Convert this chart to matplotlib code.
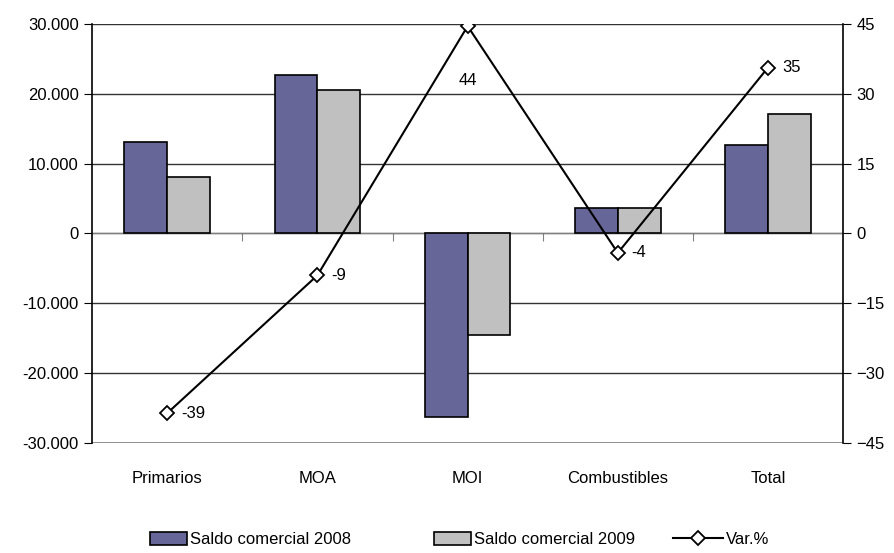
import numpy as np
import matplotlib as mpl
import matplotlib.pyplot as plt
from matplotlib.ticker import FuncFormatter

mpl.rcParams['font.family'] = ['Liberation Sans', 'DejaVu Sans']
fs = 12

# data
categorias = ['Primarios', 'MOA', 'MOI', 'Combustibles', 'Total']
saldo_2008 = [13100, 22700, -26300, 3700, 12600]
saldo_2009 = [8000, 20500, -14600, 3700, 17100]
var_pct = [-38.6, -9.0, 44.5, -4.2, 35.6]
var_labels = ['-39', '-9', '44', '-4', '35']

x = np.arange(len(categorias))
w = 0.285

fig = plt.figure(figsize=(8.95, 5.53), dpi=100)
ax = fig.add_axes([0.103, 0.199, 0.839, 0.758])

ax.bar(x - w/2, saldo_2008, w, color='#666699', edgecolor='black', lw=1.2,
       label='Saldo comercial 2008', zorder=3)
ax.bar(x + w/2, saldo_2009, w, color='#c0c0c0', edgecolor='black', lw=1.2,
       label='Saldo comercial 2009', zorder=3)

ax.set_xlim(-0.5, len(categorias) - 0.5)
ax.set_ylim(-30000, 30000)
ax.set_yticks(np.arange(-30000, 30001, 10000))
ax.yaxis.set_major_formatter(FuncFormatter(lambda v, p: f'{int(v):,}'.replace(',', '.')))
ax.grid(axis='y', color='#333333', lw=1, zorder=0)
ax.axhline(30000, color='#808080', lw=1.5, zorder=1)
ax.axhline(-30000, color='#a0a0a0', lw=2, zorder=1)

for s in ['top', 'right']:
    ax.spines[s].set_visible(False)
ax.spines['bottom'].set_position(('data', 0))
ax.spines['bottom'].set_color('#808080')
ax.spines['bottom'].set_zorder(2)
ax.spines['left'].set_linewidth(1.2)
ax.set_xticks(x[:-1] + 0.5)
ax.set_xticklabels([])
ax.tick_params(axis='x', direction='out', length=6, color='#808080')
ax.tick_params(axis='y', direction='out', length=6, labelsize=fs)

for i, c in enumerate(categorias):
    ax.text(i, -0.085, c, transform=ax.get_xaxis_transform(),
            ha='center', va='center', fontsize=fs)

ax2 = ax.twinx()
ax2.plot(x, var_pct, color='black', lw=1.5, marker='D', ms=7,
         mfc='white', mec='black', mew=1.3, label='Var.%', zorder=5)
ax2.set_ylim(-45, 45)
ax2.set_yticks(np.arange(-45, 46, 15))
for s in ['top', 'left', 'bottom']:
    ax2.spines[s].set_visible(False)
ax2.spines['right'].set_linewidth(1.2)
ax2.tick_params(axis='y', direction='out', length=6, labelsize=fs)

for i, (v, t) in enumerate(zip(var_pct, var_labels)):
    if i == 2:
        ax2.annotate(t, (i, v), xytext=(0, -39), textcoords='offset points',
                     ha='center', va='center', fontsize=fs)
    else:
        ax2.annotate(t, (i, v), xytext=(10, 0), textcoords='offset points',
                     ha='left', va='center', fontsize=fs)

# legend: three separate entries placed like the original
h1, l1 = ax.get_legend_handles_labels()
h2, l2 = ax2.get_legend_handles_labels()
handles = h1 + h2
labels = l1 + l2
xpos = [0.168, 0.485, 0.752]
hlen = [2.2, 2.2, 3.0]
for h, l, xp, hl in zip(handles, labels, xpos, hlen):
    fig.legend([h], [l], loc='center left', bbox_to_anchor=(xp, 0.024),
               frameon=False, fontsize=fs, handlelength=hl, handleheight=0.75,
               handletextpad=0.2, borderpad=0, borderaxespad=0)

plt.savefig('out.png', dpi=100)
